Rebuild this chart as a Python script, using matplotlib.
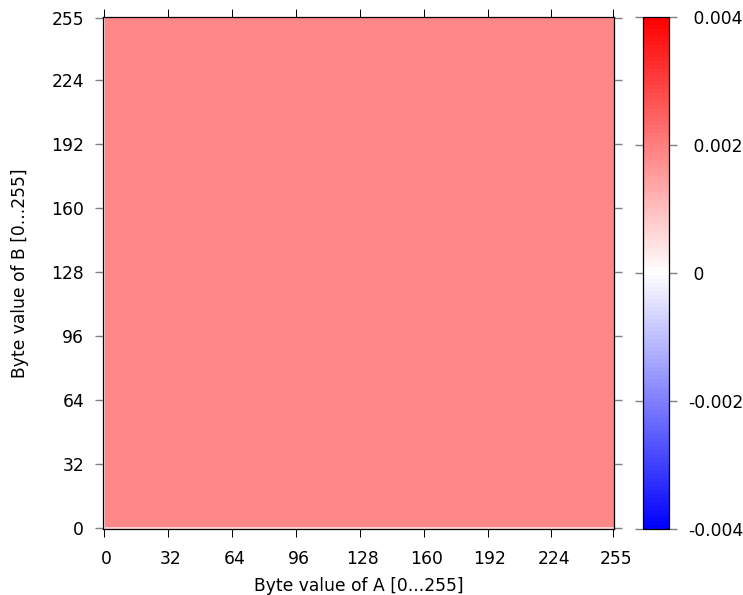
import numpy as np
import matplotlib
matplotlib.use("Agg")
import matplotlib.pyplot as plt
from matplotlib.colors import LinearSegmentedColormap
from matplotlib.transforms import ScaledTranslation

# Tick labels
byte_ticks = [0, 32, 64, 96, 128, 160, 192, 224, 255]
cbar_ticks = [-0.004, -0.002, 0, 0.002, 0.004]
cbar_labels = ["-0.004", "-0.002", " 0", " 0.002", " 0.004"]

# Cell boundaries of the coarse estimate: the pale first byte, then the remainder
block_edges = [-0.5, 0.5, 255.5]

# Estimated mean correlation; rows run from B=0 upward.
# The fine speckle cannot be read cell by cell, so only the means are kept:
# pale row/column at byte 0, and an even level everywhere else.
row_b0 = [0.0005, 0.0007]
row_rest = [0.0007, 0.00185]
rows = [row_b0, row_rest]

W, H = 743, 595
fig = plt.figure(figsize=(W / 100, H / 100), dpi=100)
ax = fig.add_axes([103.3 / W, 1 - 529.4 / H, 511 / W, 512 / H])
cax = fig.add_axes([643.3 / W, 1 - 529.4 / H, 25.6 / W, 512 / H])

cmap = LinearSegmentedColormap.from_list("bwr", ["#0000ff", "#ffffff", "#ff0000"], N=129)
mesh = ax.pcolormesh(block_edges, block_edges, np.array(rows), cmap=cmap,
                     vmin=-0.004, vmax=0.004, linewidth=0, rasterized=True)
ax.set_xlim(-0.5, 255.5)
ax.set_ylim(-0.5, 255.5)

FS = 12.3
ax.set_xticks(byte_ticks, [str(t) for t in byte_ticks], fontsize=FS)
ax.set_yticks(byte_ticks, [str(t) for t in byte_ticks], fontsize=FS)
ax.tick_params(axis="x", which="both", top=True, bottom=True, direction="out",
               length=5.6, width=0.7, color="black", pad=9)
ax.tick_params(axis="y", which="both", left=True, right=True, direction="out",
               length=5.8, width=1.0, color="#808080", pad=8)
# x tick labels sit slightly right of their ticks in the reference
label_shift = ScaledTranslation(2.5 / 100, 0, fig.dpi_scale_trans)
for lab in ax.get_xticklabels():
    lab.set_transform(lab.get_transform() + label_shift)
ax.set_xlabel("Byte value of A [0...255]", fontsize=FS, labelpad=6.6)
ax.set_ylabel("Byte value of B [0...255]", fontsize=FS, labelpad=16)
for s in ax.spines.values():
    s.set_linewidth(0.9)
    s.set_color("black")

cb = fig.colorbar(mesh, cax=cax, orientation="vertical")
cb.set_ticks(cbar_ticks, labels=cbar_labels)
cb.ax.tick_params(axis="y", which="both", left=True, right=True, direction="out",
                  length=5.8, width=1.0, color="#808080", labelsize=FS, pad=8)
cb.minorticks_off()
cb.outline.set_linewidth(0.9)
cb.outline.set_edgecolor("black")

fig.savefig("out.png", dpi=100)
